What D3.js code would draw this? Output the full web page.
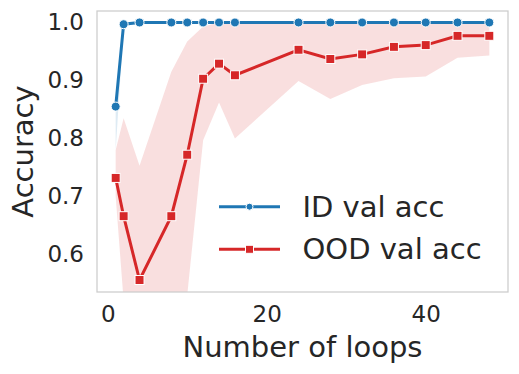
<!DOCTYPE html>
<html>
<head>
<meta charset="utf-8">
<script src="https://cdn.jsdelivr.net/npm/d3@7"></script>
<style>
  body { margin: 0; background: white; }
  text { font-family: "DejaVu Sans", sans-serif; fill: #262626; }
</style>
</head>
<body>
<script>
// datos
var loops = [1, 2, 4, 8, 10, 12, 14, 16, 24, 28, 32, 36, 40, 44, 48];
var idAcc = [0.855, 0.997, 1.0, 1.0, 1.0, 1.0, 1.0, 1.0, 1.0, 1.0, 1.0, 1.0, 1.0, 1.0, 1.0];
var idLow = [0.78, 0.993, 1.0, 1.0, 1.0, 1.0, 1.0, 1.0, 1.0, 1.0, 1.0, 1.0, 1.0, 1.0, 1.0];
var idHigh = [0.865, 1.0, 1.0, 1.0, 1.0, 1.0, 1.0, 1.0, 1.0, 1.0, 1.0, 1.0, 1.0, 1.0, 1.0];
var oodAcc = [0.732, 0.666, 0.556, 0.666, 0.772, 0.903, 0.929, 0.909, 0.953, 0.937, 0.945, 0.958, 0.961, 0.977, 0.977];
var oodLow = [0.70, 0.52, 0.40, 0.45, 0.53, 0.797, 0.862, 0.80, 0.899, 0.868, 0.892, 0.904, 0.907, 0.939, 0.943];
var oodHigh = [0.78, 0.835, 0.753, 0.915, 0.967, 0.993, 1.0, 1.0, 1.0, 1.0, 1.0, 1.0, 1.0, 1.0, 1.0];
var xTicks = [0, 20, 40];
var yTicks = [0.6, 0.7, 0.8, 0.9, 1.0];
var nombres = ["ID val acc", "OOD val acc"];

var azul = "#1f77b4", rojo = "#d62728";

function dibujar() {
    var svg = d3.select("body").append("svg").attr("width", 519).attr("height", 374);
    var izq = 97, der = 508, arr = 11, aba = 292;
    var x = d3.scaleLinear().domain([-1.35, 50.35]).range([izq, der]);
    var y = d3.scaleLinear().domain([0.5353, 1.0198]).range([aba, arr]);

    svg.append("defs").append("clipPath").attr("id", "recorte")
        .append("rect").attr("x", izq).attr("y", arr).attr("width", der - izq).attr("height", aba - arr);

    var area = svg.append("g").attr("clip-path", "url(#recorte)");

    var banda = d3.area().x(function (d) { return x(d[0]); })
        .y0(function (d) { return y(d[1]); }).y1(function (d) { return y(d[2]); });
    var linea = d3.line().x(function (d) { return x(d[0]); }).y(function (d) { return y(d[1]); });

    var datosId = loops.map(function (l, i) { return [l, idLow[i], idHigh[i], idAcc[i]]; });
    var datosOod = loops.map(function (l, i) { return [l, oodLow[i], oodHigh[i], oodAcc[i]]; });

    area.append("path").attr("d", banda(datosId)).attr("fill", azul).attr("fill-opacity", 0.15);
    area.append("path").attr("d", banda(datosOod)).attr("fill", rojo).attr("fill-opacity", 0.15);

    area.append("path").attr("d", linea(datosId.map(function (d) { return [d[0], d[3]]; })))
        .attr("fill", "none").attr("stroke", azul).attr("stroke-width", 3);
    area.append("path").attr("d", linea(datosOod.map(function (d) { return [d[0], d[3]]; })))
        .attr("fill", "none").attr("stroke", rojo).attr("stroke-width", 3);

    area.selectAll(".pid").data(datosId).enter().append("circle")
        .attr("cx", function (d) { return x(d[0]); }).attr("cy", function (d) { return y(d[3]); })
        .attr("r", 4.5).attr("fill", azul).attr("stroke", "white").attr("stroke-width", 1);
    area.selectAll(".pood").data(datosOod).enter().append("rect")
        .attr("x", function (d) { return x(d[0]) - 4.5; }).attr("y", function (d) { return y(d[3]) - 4.5; })
        .attr("width", 9).attr("height", 9).attr("fill", rojo).attr("stroke", "white").attr("stroke-width", 1);

    // marco
    svg.append("rect").attr("x", izq).attr("y", arr).attr("width", der - izq).attr("height", aba - arr)
        .attr("fill", "none").attr("stroke", "#cccccc").attr("stroke-width", 1.25);

    // ejes
    var ejeX = svg.append("g").attr("transform", "translate(0," + aba + ")")
        .call(d3.axisBottom(x).tickValues(xTicks).tickSize(0).tickPadding(14).tickFormat(d3.format("d")));
    ejeX.select(".domain").remove();
    ejeX.selectAll("text").attr("font-size", 23).attr("font-family", "DejaVu Sans").attr("fill", "#262626");

    var ejeY = svg.append("g").attr("transform", "translate(" + izq + ",0)")
        .call(d3.axisLeft(y).tickValues(yTicks).tickSize(0).tickPadding(13).tickFormat(d3.format(".1f")));
    ejeY.select(".domain").remove();
    ejeY.selectAll("text").attr("font-size", 23).attr("font-family", "DejaVu Sans").attr("fill", "#262626");

    svg.append("text").attr("x", (izq + der) / 2).attr("y", 357).attr("text-anchor", "middle")
        .attr("font-size", 29).text("Number of loops");
    svg.append("text").attr("transform", "translate(33," + (arr + aba) / 2 + ") rotate(-90)")
        .attr("text-anchor", "middle").attr("font-size", 29).text("Accuracy");

    // leyenda
    var colores = [azul, rojo];
    nombres.forEach(function (n, i) {
        var ly = 206.7 + i * 42.6;
        var g = svg.append("g");
        g.append("line").attr("x1", 219).attr("x2", 280).attr("y1", ly).attr("y2", ly)
            .attr("stroke", colores[i]).attr("stroke-width", 3);
        if (i == 0) {
            g.append("circle").attr("cx", 249.5).attr("cy", ly).attr("r", 3.5).attr("fill", azul)
                .attr("stroke", "white").attr("stroke-width", 1);
        } else {
            g.append("rect").attr("x", 245.5).attr("y", ly - 4).attr("width", 8).attr("height", 8)
                .attr("fill", rojo).attr("stroke", "white").attr("stroke-width", 1);
        }
        g.append("text").attr("x", 302.5).attr("y", ly + 10).attr("font-size", 29).text(n);
    });
}
window.onload = function () {
    dibujar();
}
</script>
</body>
</html>
